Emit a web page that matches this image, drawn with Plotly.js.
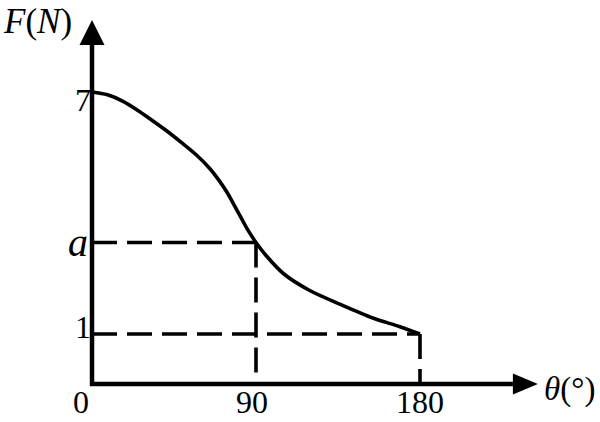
<!DOCTYPE html>
<html>
<head>
<meta charset="utf-8">
<script src="https://cdn.plot.ly/plotly-3.0.1.min.js"></script>
<style>html,body{margin:0;padding:0;background:#fff;}#chart{width:600px;height:422px;}</style>
</head>
<body>
<div id="chart"></div>
<script>
// ---- data (read from the schematic) ----
const thetaDeg = [0, 8.5, 17, 25, 32, 40, 49, 57, 64.5, 70, 74, 77.5, 81.5, 85.5, 90, 96, 105, 119, 137, 154.5, 169, 180];
const forceN   = [7, 6.93, 6.77, 6.55, 6.33, 6.07, 5.75, 5.45, 5.11, 4.79, 4.52, 4.24, 3.91, 3.58, 3.27, 2.92, 2.50, 2.09, 1.72, 1.39, 1.18, 1];
const aValue = 3.27;
const xTickVals = [0, 90, 180];
const xTickText = ['0', '90', '180'];
const yTickVals = [1, aValue, 7];
const yTickText = ['1', '<i>a</i>', '7'];
const guideX = [90, 180];
const guideY = [aValue, 1];

// ---- layout helpers ----
const yBase = -0.24;        // where the horizontal axis line is drawn
const xArrowBase = 231;     // end of horizontal axis line
const yArrowBase = 8.165;   // end of vertical axis line
const FONT = '"Liberation Serif", "Times New Roman", serif';

const traces = [];
// dashed guide lines
guideX.forEach((gx, i) => {
  const gy = guideY[i];
  traces.push({x: [0, gx], y: [gy, gy], mode: 'lines', line: {color: '#000', width: 3.6, dash: '25px,10px'}, hoverinfo: 'skip'});
  traces.push({x: [gx, gx], y: [gy, yBase], mode: 'lines', line: {color: '#000', width: 3.6, dash: '25px,10px'}, hoverinfo: 'skip'});
});
// curve
traces.push({x: thetaDeg, y: forceN, mode: 'lines', line: {color: '#000', width: 3.6, shape: 'spline', smoothing: 0.9}, hoverinfo: 'skip'});

const xShifts = {0: -11, 90: -4, 180: 0};
const annotations = [];
xTickVals.forEach((v, i) => {
  annotations.push({x: v, y: yBase, xref: 'x', yref: 'y', text: xTickText[i], showarrow: false,
    xanchor: 'center', yanchor: 'middle', xshift: xShifts[v], yshift: -18,
    font: {family: FONT, size: 32, color: '#000'}});
});
yTickVals.forEach((v, i) => {
  const isA = yTickText[i].indexOf('a') >= 0;
  annotations.push({x: 0, y: v, xref: 'x', yref: 'y', text: yTickText[i], showarrow: false,
    xanchor: 'right', yanchor: 'middle', xshift: isA ? -2 : 1, yshift: isA ? 0 : (v === 7 ? -8 : 7),
    font: {family: FONT, size: isA ? 40 : 32, color: '#000'}});
});
annotations.push({x: -0.0645, y: 0.955, xref: 'paper', yref: 'paper', text: '<i>F</i>(<i>N</i>)', showarrow: false,
  xanchor: 'center', yanchor: 'middle', font: {family: FONT, size: 35, color: '#000'}});
annotations.push({x: 0.943, y: 0.035, xref: 'paper', yref: 'paper', text: '<i>θ</i>(°)', showarrow: false,
  xanchor: 'center', yanchor: 'middle', font: {family: FONT, size: 33, color: '#000'}});

const shapes = [
  {type: 'path', xref: 'x', yref: 'y',
   path: `M 0,${yArrowBase} L 0,${yBase} L ${xArrowBase},${yBase}`,
   line: {color: '#000', width: 4.5}},
  {type: 'path', xref: 'x', yref: 'y', xsizemode: 'pixel', ysizemode: 'pixel',
   xanchor: xArrowBase, yanchor: yBase, path: 'M0,-10.5 L25,0 L0,10.5 Z',
   fillcolor: '#000', line: {width: 0}},
  {type: 'path', xref: 'x', yref: 'y', xsizemode: 'pixel', ysizemode: 'pixel',
   xanchor: 0, yanchor: yArrowBase, path: 'M-12.5,0 L12.5,0 L0,25 Z',
   fillcolor: '#000', line: {width: 0}}
];

const layout = {
  width: 600, height: 422,
  margin: {l: 72, r: 0, t: 3, b: 18},
  paper_bgcolor: '#fff', plot_bgcolor: '#fff',
  showlegend: false,
  xaxis: {range: [-10.98, 278.8], visible: false, fixedrange: true},
  yaxis: {range: [-0.736, 9.207], visible: false, fixedrange: true},
  shapes: shapes,
  annotations: annotations
};

Plotly.newPlot('chart', traces, layout, {staticPlot: true, displayModeBar: false});
</script>
</body>
</html>
